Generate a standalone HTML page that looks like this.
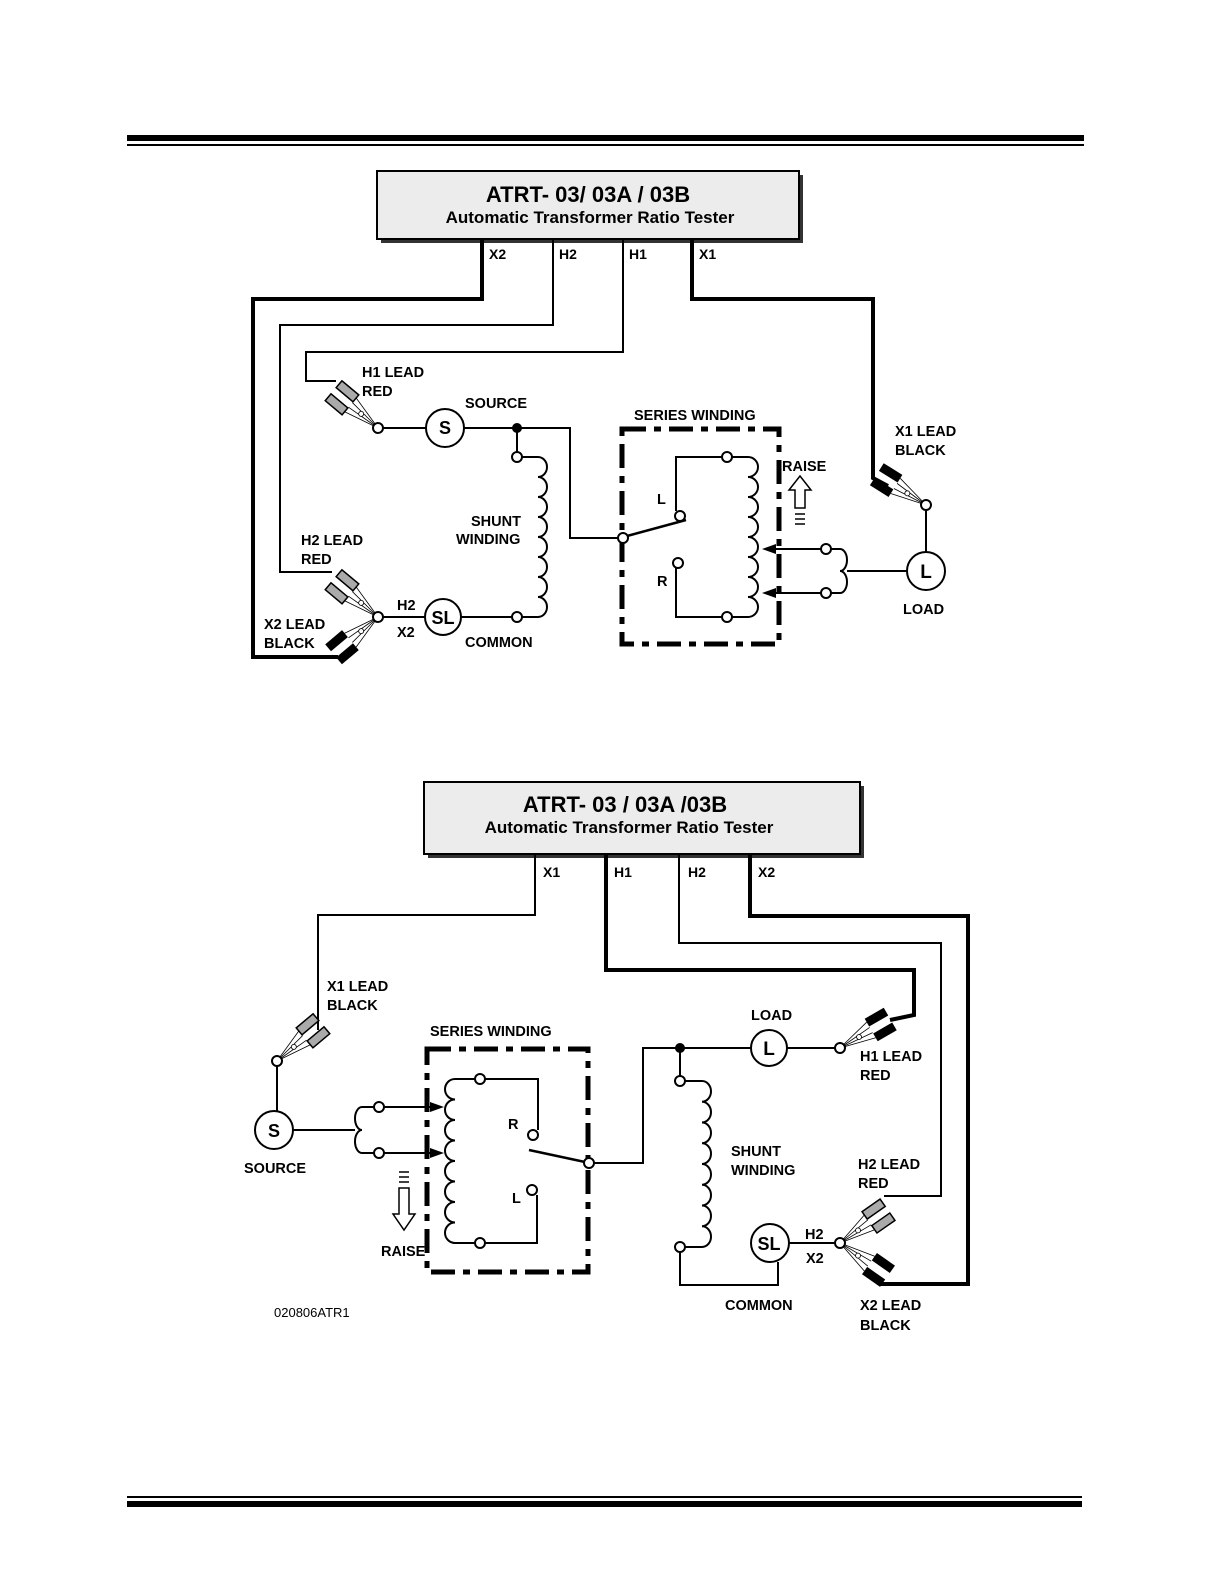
<!DOCTYPE html>
<html><head><meta charset="utf-8"><style>
html,body{margin:0;padding:0;background:#fff;overflow:hidden;width:1224px;height:1584px}
svg{display:block;position:absolute;left:0;top:0}
text{font-family:"Liberation Sans",Arial,sans-serif;font-weight:bold;fill:#000}
</style></head><body>
<svg width="1224" height="1584" viewBox="0 0 1224 1584" xmlns="http://www.w3.org/2000/svg">
<defs>
  <g id="clipg">
    <line x1="0" y1="0" x2="-36" y2="-9" stroke="#000" stroke-width="0.8"/>
    <line x1="0" y1="0" x2="-36" y2="-3" stroke="#000" stroke-width="0.8"/>
    <line x1="0" y1="0" x2="-36" y2="9" stroke="#000" stroke-width="0.8"/>
    <line x1="0" y1="0" x2="-36" y2="3" stroke="#000" stroke-width="0.8"/>
    <circle cx="-22" cy="0" r="2.5" fill="#fff" stroke="#000" stroke-width="0.8"/>
    <rect x="-58" y="-13" width="22" height="9" fill="#aaa" stroke="#000" stroke-width="1.5"/>
    <rect x="-58" y="4" width="22" height="9" fill="#aaa" stroke="#000" stroke-width="1.5"/>
  </g>
  <g id="clipb">
    <line x1="0" y1="0" x2="-36" y2="-9" stroke="#000" stroke-width="0.8"/>
    <line x1="0" y1="0" x2="-36" y2="-3" stroke="#000" stroke-width="0.8"/>
    <line x1="0" y1="0" x2="-36" y2="9" stroke="#000" stroke-width="0.8"/>
    <line x1="0" y1="0" x2="-36" y2="3" stroke="#000" stroke-width="0.8"/>
    <circle cx="-22" cy="0" r="2.5" fill="#fff" stroke="#000" stroke-width="0.8"/>
    <rect x="-58" y="-13" width="22" height="9" fill="#000"/>
    <rect x="-58" y="4" width="22" height="9" fill="#000"/>
  </g>
</defs>

<rect x="127" y="135" width="957" height="6" fill="#000"/>
<rect x="127" y="144" width="957" height="2" fill="#000"/>
<rect x="127" y="1496" width="955" height="2" fill="#000"/>
<rect x="127" y="1501" width="955" height="6" fill="#000"/>

<g fill="none" stroke="#000" stroke-width="2">
<rect x="381" y="175" width="422" height="68" fill="#333" stroke="none"/>
<rect x="377" y="171" width="422" height="68" fill="#ececec" stroke="#000" stroke-width="2"/>

<polyline points="482,240 482,299 253,299 253,657 338,657" stroke-width="4"/>
<polyline points="553,240 553,325 280,325 280,572 332,572"/>
<polyline points="623,240 623,352 306,352 306,381 336,381"/>
<polyline points="692,240 692,299 873,299 873,478 888,486" stroke-width="4"/>

<line x1="382" y1="428" x2="426" y2="428"/>
<circle cx="445" cy="428" r="19"/>
<polyline points="464,428 570,428 570,538 618,538"/>
<line x1="517" y1="428" x2="517" y2="452"/>
<path d="M522 457 H538 a9 10 0 0 1 0 20 a9 10 0 0 1 0 20 a9 10 0 0 1 0 20 a9 10 0 0 1 0 20 a9 10 0 0 1 0 20 a9 10 0 0 1 0 20 a9 10 0 0 1 0 20 a9 10 0 0 1 0 20 H522"/>
<line x1="382" y1="617" x2="425" y2="617"/>
<circle cx="443" cy="617" r="18"/>
<line x1="461" y1="617" x2="512" y2="617"/>

<rect x="622" y="429" width="157" height="215" stroke-width="5" stroke-dasharray="24 8 7 8"/>
<path d="M732 457 H748 a10 10 0 0 1 0 20 a10 10 0 0 1 0 20 a10 10 0 0 1 0 20 a10 10 0 0 1 0 20 a10 10 0 0 1 0 20 a10 10 0 0 1 0 20 a10 10 0 0 1 0 20 a10 10 0 0 1 0 20 H732"/>
<polyline points="722,457 676,457 676,511"/>
<polyline points="678,568 676,568 676,617 722,617"/>
<line x1="627" y1="536" x2="686" y2="520" stroke-width="2.5"/>
<line x1="821" y1="549" x2="770" y2="549"/>
<line x1="821" y1="593" x2="770" y2="593"/>
<path d="M831 549 H840 a7 11 0 0 1 0 22 a7 11 0 0 1 0 22 H831"/>
<line x1="847" y1="571" x2="907" y2="571"/>
<circle cx="926" cy="571" r="19"/>
<line x1="926" y1="552" x2="926" y2="510"/>
<path d="M795 508 V490 H789 L800 476 L811 490 H805 V508 Z" stroke-width="1.5"/>
<path d="M795 514 H805 M795 519 H805 M795 524 H805" stroke-width="1.5"/>

<rect x="428" y="786" width="436" height="72" fill="#333" stroke="none"/>
<rect x="424" y="782" width="436" height="72" fill="#ececec" stroke="#000" stroke-width="2"/>
<polyline points="535,855 535,915 318,915 318,1030"/>
<polyline points="606,855 606,970 914,970 914,1015 890,1020" stroke-width="4"/>
<polyline points="679,855 679,943 941,943 941,1196 884,1196"/>
<polyline points="750,855 750,916 968,916 968,1284 880,1284" stroke-width="4"/>

<line x1="277" y1="1066" x2="277" y2="1111"/>
<circle cx="274" cy="1130" r="19"/>
<line x1="293" y1="1130" x2="355" y2="1130"/>
<path d="M374 1107 H362 a7 11.5 0 0 0 0 23 a7 11.5 0 0 0 0 23 H374"/>
<line x1="384" y1="1107" x2="436" y2="1107"/>
<line x1="384" y1="1153" x2="436" y2="1153"/>
<path d="M475 1079 H455 a10 10.25 0 0 0 0 20.5 a10 10.25 0 0 0 0 20.5 a10 10.25 0 0 0 0 20.5 a10 10.25 0 0 0 0 20.5 a10 10.25 0 0 0 0 20.5 a10 10.25 0 0 0 0 20.5 a10 10.25 0 0 0 0 20.5 a10 10.25 0 0 0 0 20.5 H475"/>
<polyline points="485,1079 538,1079 538,1130"/>
<polyline points="537,1195 537,1243 485,1243"/>
<line x1="529" y1="1150" x2="585" y2="1162" stroke-width="2.5"/>
<rect x="427" y="1049" width="161" height="223" stroke-width="5" stroke-dasharray="24 8 7 8"/>
<polyline points="594,1163 643,1163 643,1048 751,1048"/>
<circle cx="769" cy="1048" r="18"/>
<line x1="787" y1="1048" x2="835" y2="1048"/>
<line x1="680" y1="1048" x2="680" y2="1076"/>
<path d="M685 1081 H702 a9 10.375 0 0 1 0 20.75 a9 10.375 0 0 1 0 20.75 a9 10.375 0 0 1 0 20.75 a9 10.375 0 0 1 0 20.75 a9 10.375 0 0 1 0 20.75 a9 10.375 0 0 1 0 20.75 a9 10.375 0 0 1 0 20.75 a9 10.375 0 0 1 0 20.75 H685"/>
<polyline points="680,1252 680,1285 778,1285 778,1262"/>
<circle cx="770" cy="1243" r="19"/>
<line x1="789" y1="1243" x2="835" y2="1243"/>
<path d="M399 1188 V1214 H393 L404 1230 L415 1214 H409 V1188 Z" stroke-width="1.5"/>
<path d="M399 1172 H409 M399 1177 H409 M399 1182 H409" stroke-width="1.5"/>
</g>

<g fill="#000">
<polygon points="762,549 776,544 776,554"/>
<polygon points="762,593 776,588 776,598"/>
<polygon points="444,1107 430,1102 430,1112"/>
<polygon points="444,1153 430,1148 430,1158"/>
<circle cx="517" cy="428" r="5"/>
<circle cx="680" cy="1048" r="5"/>
</g>

<use href="#clipg" transform="translate(378,428) rotate(40)"/>
<use href="#clipg" transform="translate(378,617) rotate(40)"/>
<use href="#clipb" transform="translate(378,617) rotate(-40)"/>
<use href="#clipb" transform="translate(926,505) rotate(32)"/>
<use href="#clipg" transform="translate(277,1061) rotate(140)"/>
<use href="#clipb" transform="translate(840,1048) rotate(150)"/>
<use href="#clipg" transform="translate(840,1243) rotate(145)"/>
<use href="#clipb" transform="translate(840,1243) rotate(-145)"/>

<g fill="#fff" stroke="#000" stroke-width="2">
<circle cx="378" cy="428" r="5"/><circle cx="378" cy="617" r="5"/>
<circle cx="517" cy="457" r="5"/><circle cx="517" cy="617" r="5"/>
<circle cx="623" cy="538" r="5"/><circle cx="680" cy="516" r="5"/><circle cx="678" cy="563" r="5"/>
<circle cx="727" cy="457" r="5"/><circle cx="727" cy="617" r="5"/>
<circle cx="826" cy="549" r="5"/><circle cx="826" cy="593" r="5"/>
<circle cx="926" cy="505" r="5"/>
<circle cx="277" cy="1061" r="5"/>
<circle cx="379" cy="1107" r="5"/><circle cx="379" cy="1153" r="5"/>
<circle cx="480" cy="1079" r="5"/><circle cx="480" cy="1243" r="5"/>
<circle cx="533" cy="1135" r="5"/><circle cx="532" cy="1190" r="5"/>
<circle cx="589" cy="1163" r="5"/>
<circle cx="680" cy="1081" r="5"/><circle cx="680" cy="1247" r="5"/>
<circle cx="840" cy="1048" r="5"/><circle cx="840" cy="1243" r="5"/>
</g>

<text x="588" y="202" font-size="22" text-anchor="middle">ATRT- 03/ 03A / 03B</text>
<text x="590" y="223" font-size="17" text-anchor="middle">Automatic Transformer Ratio Tester</text>
<g font-size="14">
<text x="489" y="259">X2</text>
<text x="559" y="259">H2</text>
<text x="629" y="259">H1</text>
<text x="699" y="259">X1</text>
<text x="445" y="434" text-anchor="middle" font-size="18">S</text>
<text x="443" y="624" text-anchor="middle" font-size="18">SL</text>
<text x="926" y="578" text-anchor="middle" font-size="19">L</text>
</g>
<g font-size="14.5">
<text x="362" y="377">H1 LEAD</text><text x="362" y="396">RED</text>
<text x="465" y="408">SOURCE</text>
<text x="634" y="420">SERIES WINDING</text>
<text x="895" y="436">X1 LEAD</text><text x="895" y="455">BLACK</text>
<text x="782" y="471">RAISE</text>
<text x="657" y="504">L</text><text x="657" y="586">R</text>
<text x="471" y="526">SHUNT</text><text x="456" y="544">WINDING</text>
<text x="301" y="545">H2 LEAD</text><text x="301" y="564">RED</text>
<text x="264" y="629">X2 LEAD</text><text x="264" y="648">BLACK</text>
<text x="397" y="610">H2</text><text x="397" y="637">X2</text>
<text x="465" y="647">COMMON</text>
<text x="903" y="614">LOAD</text>
</g>

<text x="625" y="812" font-size="22" text-anchor="middle">ATRT- 03 / 03A /03B</text>
<text x="629" y="833" font-size="17" text-anchor="middle">Automatic Transformer Ratio Tester</text>
<g font-size="14">
<text x="543" y="877">X1</text><text x="614" y="877">H1</text>
<text x="688" y="877">H2</text><text x="758" y="877">X2</text>
<text x="274" y="1137" text-anchor="middle" font-size="18">S</text>
<text x="769" y="1055" text-anchor="middle" font-size="19">L</text>
<text x="769" y="1250" text-anchor="middle" font-size="18">SL</text>
</g>
<g font-size="14.5">
<text x="327" y="991">X1 LEAD</text><text x="327" y="1010">BLACK</text>
<text x="430" y="1036">SERIES WINDING</text>
<text x="751" y="1020">LOAD</text>
<text x="860" y="1061">H1 LEAD</text><text x="860" y="1080">RED</text>
<text x="508" y="1129">R</text><text x="512" y="1203">L</text>
<text x="244" y="1173">SOURCE</text>
<text x="731" y="1156">SHUNT</text><text x="731" y="1175">WINDING</text>
<text x="858" y="1169">H2 LEAD</text><text x="858" y="1188">RED</text>
<text x="805" y="1239">H2</text><text x="806" y="1263">X2</text>
<text x="381" y="1256">RAISE</text>
<text x="725" y="1310">COMMON</text>
<text x="860" y="1310">X2 LEAD</text><text x="860" y="1330">BLACK</text>
</g>
<text x="274" y="1317" font-size="13" style="font-weight:normal">020806ATR1</text>
</svg>
</body></html>
